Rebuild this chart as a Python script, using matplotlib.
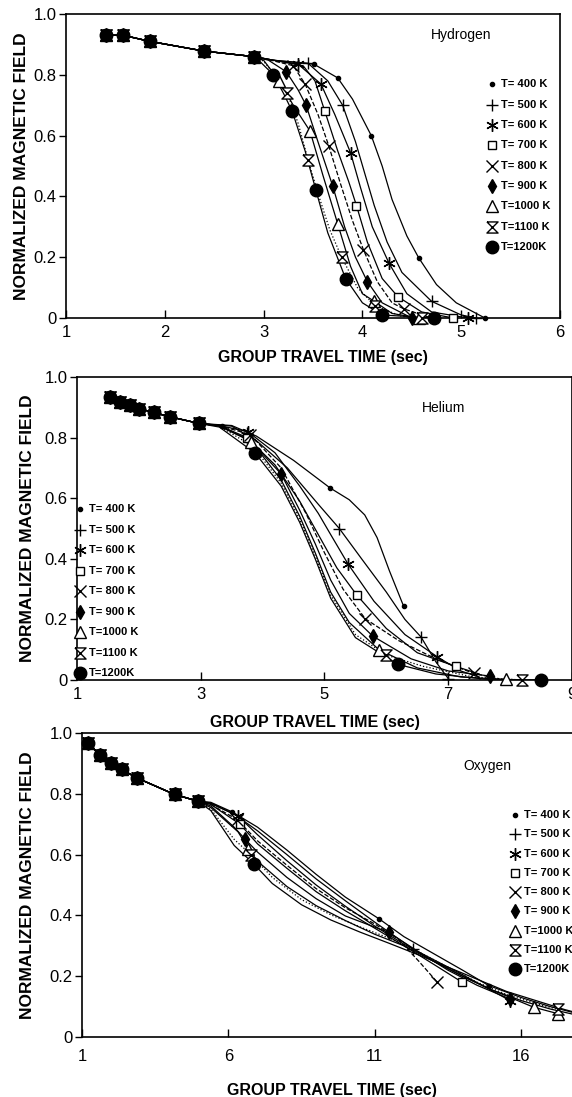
import matplotlib
matplotlib.use("Agg")
import matplotlib.pyplot as plt

plt.rcParams['font.family'] = ['Liberation Sans', 'DejaVu Sans']

temps = [400, 500, 600, 700, 800, 900, 1000, 1100, 1200]
legend_labels = ["T= 400 K", "T= 500 K", "T= 600 K", "T= 700 K", "T= 800 K",
                 "T= 900 K", "T=1000 K", "T=1100 K", "T=1200K"]
y_ticks = [0, 0.2, 0.4, 0.6, 0.8, 1.0]
y_ticklabels = ["0", "0.2", "0.4", "0.6", "0.8", "1.0"]

# ---------------- hydrogen ----------------
h_head_t = [1.40, 1.58, 1.85, 2.40, 2.90]
h_head_b = [0.930, 0.930, 0.910, 0.878, 0.860]
h_t = [
    [3.10, 3.51, 3.75, 3.90, 4.09, 4.20, 4.30, 4.45, 4.57, 4.75, 4.95, 5.24],
    [3.10, 3.45, 3.65, 3.80, 3.93, 4.02, 4.12, 4.25, 4.40, 4.70, 5.00, 5.15],
    [3.10, 3.35, 3.58, 3.72, 3.88, 3.98, 4.10, 4.27, 4.45, 4.70, 5.07],
    [3.10, 3.40, 3.52, 3.62, 3.75, 3.86, 3.94, 4.05, 4.20, 4.36, 4.60, 4.92],
    [3.05, 3.30, 3.42, 3.55, 3.66, 3.78, 3.90, 4.01, 4.15, 4.30, 4.42, 4.70],
    [3.05, 3.23, 3.35, 3.43, 3.55, 3.70, 3.82, 3.93, 4.05, 4.20, 4.50],
    [3.00, 3.16, 3.30, 3.47, 3.60, 3.75, 3.88, 4.00, 4.12, 4.30, 4.57],
    [3.00, 3.10, 3.24, 3.35, 3.45, 3.56, 3.67, 3.79, 3.95, 4.13, 4.40, 4.60],
    [2.95, 3.10, 3.20, 3.29, 3.42, 3.53, 3.65, 3.83, 4.00, 4.20, 4.72],
]
h_b = [
    [0.848, 0.835, 0.790, 0.720, 0.600, 0.500, 0.390, 0.270, 0.198, 0.110, 0.050, 0.000],
    [0.848, 0.838, 0.780, 0.700, 0.580, 0.480, 0.370, 0.250, 0.150, 0.055, 0.010, 0.000],
    [0.848, 0.835, 0.770, 0.670, 0.544, 0.430, 0.300, 0.180, 0.080, 0.020, 0.000],
    [0.848, 0.830, 0.780, 0.680, 0.550, 0.450, 0.370, 0.250, 0.130, 0.070, 0.020, 0.000],
    [0.850, 0.830, 0.770, 0.670, 0.566, 0.440, 0.320, 0.225, 0.120, 0.050, 0.030, 0.000],
    [0.848, 0.810, 0.750, 0.700, 0.580, 0.434, 0.300, 0.200, 0.120, 0.050, 0.000],
    [0.848, 0.780, 0.700, 0.615, 0.470, 0.310, 0.170, 0.080, 0.055, 0.015, 0.000],
    [0.845, 0.805, 0.740, 0.640, 0.520, 0.400, 0.290, 0.200, 0.100, 0.040, 0.005, 0.000],
    [0.848, 0.800, 0.740, 0.680, 0.550, 0.420, 0.280, 0.130, 0.050, 0.010, 0.000],
]
h_mt = [
    [3.51, 3.75, 4.09, 4.57, 5.24],
    [3.45, 3.80, 4.70, 5.15],
    [3.35, 3.58, 3.88, 4.27, 5.07],
    [3.62, 3.94, 4.36, 4.92],
    [3.30, 3.42, 3.66, 4.01, 4.42],
    [3.23, 3.43, 3.70, 4.05, 4.50],
    [3.16, 3.47, 3.75, 4.12, 4.57],
    [3.24, 3.45, 3.79, 4.13, 4.60],
    [3.10, 3.29, 3.53, 3.83, 4.20, 4.72],
]
h_mb = [
    [0.835, 0.790, 0.600, 0.198, 0.000],
    [0.838, 0.700, 0.055, 0.000],
    [0.835, 0.770, 0.544, 0.180, 0.000],
    [0.680, 0.370, 0.070, 0.000],
    [0.830, 0.770, 0.566, 0.225, 0.030],
    [0.810, 0.700, 0.434, 0.120, 0.000],
    [0.780, 0.615, 0.310, 0.055, 0.000],
    [0.740, 0.520, 0.200, 0.040, 0.000],
    [0.800, 0.680, 0.420, 0.130, 0.010, 0.000],
]

# ---------------- helium ----------------
e_head_t = [1.53, 1.70, 1.85, 2.00, 2.24, 2.50, 2.97]
e_head_b = [0.934, 0.918, 0.907, 0.896, 0.883, 0.869, 0.847]
e_t = [
    [3.50, 3.90, 4.50, 5.09, 5.40, 5.65, 5.85, 6.05, 6.28],
    [3.50, 3.90, 4.40, 4.90, 5.24, 5.60, 6.00, 6.30, 6.56, 6.80, 7.00],
    [3.30, 3.76, 4.20, 4.60, 4.90, 5.10, 5.38, 5.80, 6.30, 6.82, 7.20, 7.50],
    [3.30, 3.75, 4.20, 4.60, 4.90, 5.20, 5.52, 6.00, 6.50, 7.12, 7.50],
    [3.30, 3.80, 4.30, 4.70, 5.00, 5.30, 5.66, 6.20, 6.80, 7.41, 7.80],
    [3.30, 3.80, 4.30, 4.60, 4.85, 5.10, 5.40, 5.78, 6.40, 7.00, 7.68],
    [3.30, 3.82, 4.30, 4.60, 4.85, 5.10, 5.40, 5.88, 6.50, 7.20, 7.94],
    [3.30, 3.85, 4.30, 4.60, 4.85, 5.10, 5.50, 6.00, 6.60, 7.40, 8.20],
    [3.30, 3.88, 4.30, 4.60, 4.85, 5.10, 5.50, 6.18, 6.80, 7.60, 8.50],
]
e_b = [
    [0.840, 0.805, 0.725, 0.634, 0.595, 0.545, 0.470, 0.360, 0.243],
    [0.838, 0.790, 0.700, 0.580, 0.500, 0.400, 0.290, 0.200, 0.142, 0.060, 0.005],
    [0.840, 0.820, 0.750, 0.640, 0.550, 0.480, 0.383, 0.260, 0.150, 0.077, 0.030, 0.010],
    [0.840, 0.800, 0.710, 0.590, 0.480, 0.370, 0.281, 0.170, 0.090, 0.045, 0.020],
    [0.840, 0.810, 0.700, 0.550, 0.420, 0.300, 0.202, 0.130, 0.070, 0.022, 0.005],
    [0.840, 0.790, 0.680, 0.560, 0.450, 0.330, 0.220, 0.145, 0.070, 0.030, 0.013],
    [0.838, 0.787, 0.660, 0.540, 0.420, 0.290, 0.190, 0.100, 0.040, 0.010, 0.002],
    [0.838, 0.770, 0.650, 0.530, 0.410, 0.280, 0.150, 0.082, 0.045, 0.010, 0.000],
    [0.835, 0.749, 0.640, 0.520, 0.400, 0.270, 0.140, 0.052, 0.020, 0.003, 0.000],
]
e_mt = [
    [3.35, 5.09, 6.28],
    [3.75, 5.24, 6.56, 7.00],
    [3.76, 5.38, 6.82],
    [3.75, 5.52, 7.12],
    [3.80, 5.66, 7.41],
    [4.30, 5.78, 7.68],
    [3.82, 5.88, 7.94],
    [6.00, 8.20],
    [3.88, 6.18, 8.50],
]
e_mb = [
    [0.838, 0.634, 0.243],
    [0.815, 0.500, 0.142, 0.005],
    [0.820, 0.383, 0.077],
    [0.800, 0.281, 0.045],
    [0.810, 0.202, 0.022],
    [0.680, 0.145, 0.013],
    [0.787, 0.100, 0.002],
    [0.082, 0.000],
    [0.749, 0.052, 0.000],
]

# ---------------- oxygen ----------------
o_head_t = [1.19, 1.60, 2.00, 2.36, 2.88, 4.16, 4.95]
o_head_b = [0.967, 0.929, 0.902, 0.880, 0.852, 0.798, 0.776]
o_t = [
    [5.40, 6.14, 7.00, 8.00, 9.00, 10.00, 11.16, 12.00, 13.00, 14.00, 14.90, 16.00, 17.00, 18.00, 19.00],
    [5.40, 6.20, 7.00, 8.00, 9.00, 10.00, 11.00, 12.30, 13.00, 14.00, 15.00, 16.00, 17.00, 18.00, 19.00],
    [5.40, 6.33, 7.00, 8.00, 9.00, 10.00, 11.00, 12.00, 13.00, 14.00, 15.62],
    [5.40, 6.40, 7.00, 8.00, 9.00, 10.00, 11.00, 12.00, 13.00, 13.99],
    [5.40, 6.30, 7.00, 8.00, 9.00, 10.00, 11.00, 11.80, 12.50, 13.14],
    [5.40, 6.20, 6.58, 7.00, 8.00, 9.00, 10.00, 11.48, 12.50, 13.50, 14.50, 15.62],
    [5.40, 6.33, 6.68, 7.00, 8.00, 9.00, 10.00, 11.00, 12.00, 13.00, 14.00, 15.00, 16.43, 17.25],
    [5.40, 6.20, 6.77, 7.50, 8.50, 9.50, 10.50, 11.50, 12.50, 13.50, 14.50, 15.50, 16.50, 17.25],
    [5.40, 6.20, 6.86, 7.50, 8.50, 9.50, 10.50, 11.50, 12.50, 13.50, 14.50, 15.50, 16.50, 17.50, 18.50, 19.00],
]
o_b = [
    [0.772, 0.740, 0.690, 0.615, 0.535, 0.460, 0.388, 0.330, 0.275, 0.220, 0.169, 0.130, 0.100, 0.075, 0.055],
    [0.770, 0.733, 0.678, 0.600, 0.520, 0.448, 0.378, 0.290, 0.250, 0.200, 0.155, 0.120, 0.092, 0.070, 0.052],
    [0.768, 0.727, 0.665, 0.580, 0.500, 0.430, 0.365, 0.305, 0.255, 0.205, 0.120],
    [0.765, 0.700, 0.635, 0.555, 0.478, 0.415, 0.358, 0.300, 0.240, 0.180],
    [0.765, 0.715, 0.645, 0.565, 0.488, 0.425, 0.372, 0.322, 0.250, 0.180],
    [0.760, 0.690, 0.650, 0.608, 0.525, 0.455, 0.398, 0.344, 0.280, 0.220, 0.170, 0.125],
    [0.755, 0.675, 0.620, 0.578, 0.495, 0.432, 0.383, 0.338, 0.300, 0.250, 0.200, 0.155, 0.098, 0.077],
    [0.750, 0.650, 0.600, 0.525, 0.452, 0.402, 0.362, 0.325, 0.280, 0.230, 0.180, 0.140, 0.110, 0.091],
    [0.745, 0.630, 0.570, 0.505, 0.435, 0.385, 0.345, 0.308, 0.270, 0.230, 0.190, 0.150, 0.120, 0.090, 0.065, 0.055],
]
o_mt = [
    [6.14, 11.16, 14.90],
    [12.30],
    [6.33, 15.62],
    [6.40, 13.99],
    [6.30, 13.14],
    [6.58, 11.48, 15.62],
    [6.68, 16.43, 17.25],
    [6.77, 17.25],
    [6.86],
]
o_mb = [
    [0.740, 0.388, 0.169],
    [0.290],
    [0.727, 0.120],
    [0.700, 0.180],
    [0.715, 0.180],
    [0.650, 0.344, 0.125],
    [0.620, 0.098, 0.077],
    [0.600, 0.091],
    [0.570],
]

hourglass = [(-1, 1), (1, 1), (-1, -1), (1, -1), (-1, 1)]
styles = [
    dict(marker='o', ms=3, mfc='black', ls='-'),
    dict(marker='+', ms=9, mfc='black', ls='-'),
    dict(marker=(6, 2, 0), ms=9, mfc='black', ls='-'),
    dict(marker='s', ms=6, mfc='white', ls='-'),
    dict(marker='x', ms=8, mfc='black', ls='--'),
    dict(marker='d', ms=7, mfc='black', ls='-'),
    dict(marker='^', ms=8, mfc='white', ls='-'),
    dict(marker=hourglass, ms=8, mfc='white', ls=':'),
    dict(marker='o', ms=9, mfc='black', ls='-'),
]


def marker_kw(st):
    return dict(marker=st['marker'], ms=st['ms'], mfc=st['mfc'], mec='black', mew=1.0, ls='none')


def draw_panel(ax, head_t, head_b, tt, bb, mt, mb):
    for i in range(len(temps)):
        st = styles[i]
        ax.plot(head_t + tt[i], head_b + bb[i], color='black', lw=0.9, ls=st['ls'], zorder=2)
    for i in range(len(temps)):
        st = styles[i]
        ax.plot(head_t + mt[i], head_b + mb[i], zorder=3, clip_on=False, **marker_kw(st))


def draw_legend(ax, x0, y0, dy, dx):
    for i, lab in enumerate(legend_labels):
        y = y0 - i * dy
        ax.plot([x0], [y], transform=ax.transAxes, clip_on=False, zorder=4, **marker_kw(styles[i]))
        ax.text(x0 + dx, y, lab, transform=ax.transAxes, fontsize=8, fontweight='bold',
                va='center', ha='left')


def style_axes(ax, xlim, xticks, xlab_pos, ylab_x, xpad=5):
    ax.set_xlim(*xlim)
    ax.set_ylim(0, 1.0)
    ax.set_xticks(xticks)
    ax.set_xticklabels([str(v) for v in xticks])
    ax.set_yticks(y_ticks)
    ax.set_yticklabels(y_ticklabels)
    ax.tick_params(axis='x', direction='in', length=6, width=1, labelsize=12, pad=xpad)
    ax.tick_params(axis='y', direction='out', length=5, width=1, labelsize=12, pad=2)
    for sp in ax.spines.values():
        sp.set_linewidth(1.2)
    ax.set_xlabel("GROUP TRAVEL TIME (sec)", fontsize=11.5, fontweight='bold')
    ax.set_ylabel("NORMALIZED MAGNETIC FIELD", fontsize=12.5, fontweight='bold')
    ax.xaxis.set_label_coords(xlab_pos[0], xlab_pos[1])
    ax.yaxis.set_label_coords(ylab_x, 0.5)


fig = plt.figure(figsize=(5.72, 10.97), dpi=100)

ax1 = fig.add_axes([0.1154, 0.7101, 0.8636, 0.2771])
draw_panel(ax1, h_head_t, h_head_b, h_t, h_b, h_mt, h_mb)
style_axes(ax1, (1, 6), [1, 2, 3, 4, 5, 6], (0.52, -0.105), -0.075)
ax1.text(0.80, 0.93, "Hydrogen", transform=ax1.transAxes, fontsize=10, ha='center', va='center')
draw_legend(ax1, 0.862, 0.769, 0.067, 0.018)

ax2 = fig.add_axes([0.1346, 0.3801, 0.8654, 0.2762])
draw_panel(ax2, e_head_t, e_head_b, e_t, e_b, e_mt, e_mb)
style_axes(ax2, (1, 9), [1, 3, 5, 7, 9], (0.48, -0.116), -0.085)
ax2.text(0.74, 0.898, "Helium", transform=ax2.transAxes, fontsize=10, ha='center', va='center')
draw_legend(ax2, 0.006, 0.564, 0.0677, 0.018)

ax3 = fig.add_axes([0.1434, 0.0547, 0.921, 0.2771])
draw_panel(ax3, o_head_t, o_head_b, o_t, o_b, o_mt, o_mb)
style_axes(ax3, (1, 19), [1, 6, 11, 16], (0.474, -0.150), -0.089, xpad=9)
ax3.text(0.77, 0.891, "Oxygen", transform=ax3.transAxes, fontsize=10, ha='center', va='center')
draw_legend(ax3, 0.822, 0.730, 0.0633, 0.017)

fig.savefig("out.png", dpi=100)
